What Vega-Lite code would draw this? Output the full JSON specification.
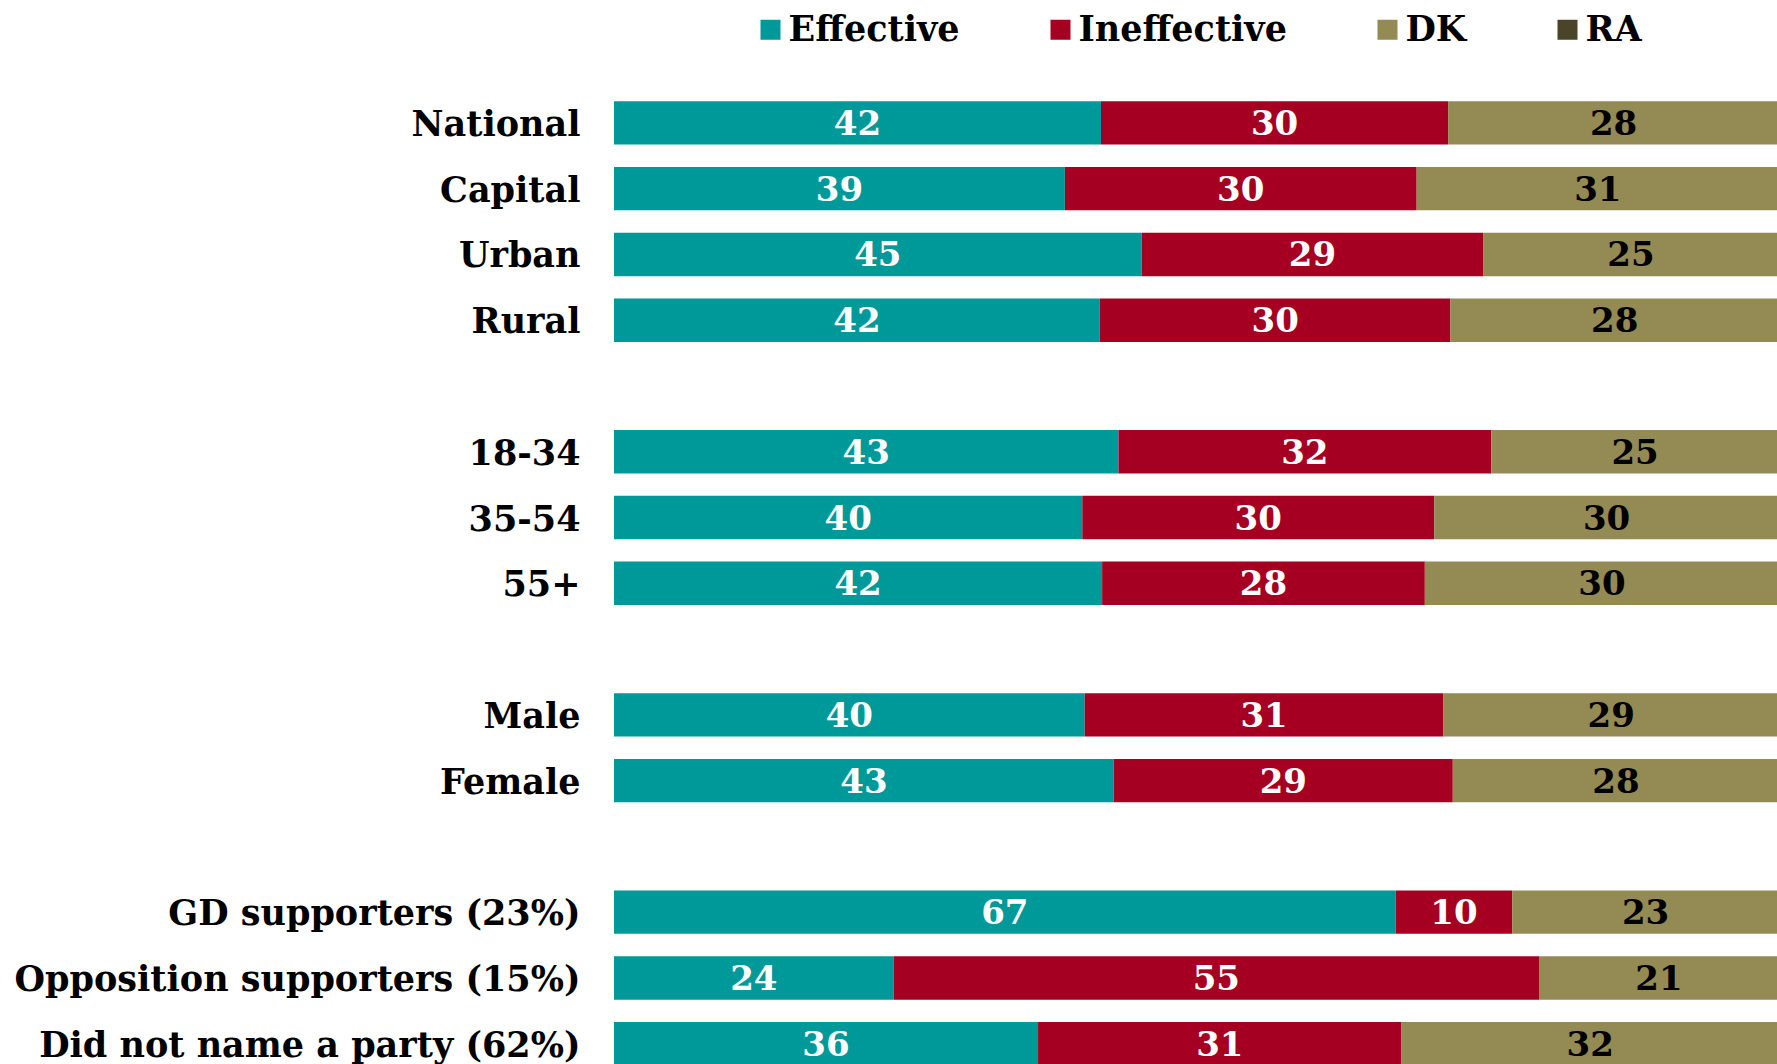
{
  "$schema": "https://vega.github.io/schema/vega-lite/v6.json",
  "width": 1163,
  "height": 974,
  "autosize": {"type": "none"},
  "padding": {"left": 614, "top": 90, "right": 0, "bottom": 0},
  "background": "white",
  "config": {"view": {"stroke": null}, "font": "DejaVu Serif"},
  "datasets": {
    "responses": [
      {"response": "Effective", "rank": 1},
      {"response": "Ineffective", "rank": 2},
      {"response": "DK", "rank": 3},
      {"response": "RA", "rank": 4}
    ]
  },
  "data": {
    "values": [
      {"group": "National", "response": "Effective", "pct": 41.8},
      {"group": "National", "response": "Ineffective", "pct": 29.8},
      {"group": "National", "response": "DK", "pct": 28.4},
      {"group": "Capital", "response": "Effective", "pct": 38.7},
      {"group": "Capital", "response": "Ineffective", "pct": 30.2},
      {"group": "Capital", "response": "DK", "pct": 31.1},
      {"group": "Urban", "response": "Effective", "pct": 45.3},
      {"group": "Urban", "response": "Ineffective", "pct": 29.3},
      {"group": "Urban", "response": "DK", "pct": 25.4},
      {"group": "Rural", "response": "Effective", "pct": 41.7},
      {"group": "Rural", "response": "Ineffective", "pct": 30.1},
      {"group": "Rural", "response": "DK", "pct": 28.2},
      {"group": "18-34", "response": "Effective", "pct": 43.3},
      {"group": "18-34", "response": "Ineffective", "pct": 32.0},
      {"group": "18-34", "response": "DK", "pct": 24.7},
      {"group": "35-54", "response": "Effective", "pct": 40.2},
      {"group": "35-54", "response": "Ineffective", "pct": 30.2},
      {"group": "35-54", "response": "DK", "pct": 29.6},
      {"group": "55+", "response": "Effective", "pct": 41.9},
      {"group": "55+", "response": "Ineffective", "pct": 27.7},
      {"group": "55+", "response": "DK", "pct": 30.4},
      {"group": "Male", "response": "Effective", "pct": 40.4},
      {"group": "Male", "response": "Ineffective", "pct": 30.8},
      {"group": "Male", "response": "DK", "pct": 28.8},
      {"group": "Female", "response": "Effective", "pct": 42.9},
      {"group": "Female", "response": "Ineffective", "pct": 29.1},
      {"group": "Female", "response": "DK", "pct": 28.0},
      {"group": "GD supporters (23%)", "response": "Effective", "pct": 67.1},
      {"group": "GD supporters (23%)", "response": "Ineffective", "pct": 10.0},
      {"group": "GD supporters (23%)", "response": "DK", "pct": 22.9},
      {"group": "Opposition supporters (15%)", "response": "Effective", "pct": 24.0},
      {"group": "Opposition supporters (15%)", "response": "Ineffective", "pct": 55.4},
      {"group": "Opposition supporters (15%)", "response": "DK", "pct": 20.6},
      {"group": "Did not name a party (62%)", "response": "Effective", "pct": 36.4},
      {"group": "Did not name a party (62%)", "response": "Ineffective", "pct": 31.2},
      {"group": "Did not name a party (62%)", "response": "DK", "pct": 32.4}
    ]
  },
  "transform": [
    {"lookup": "response", "from": {"data": {"name": "responses"}, "key": "response", "fields": ["rank"]}}
  ],
  "encoding": {
    "y": {
      "field": "group",
      "type": "nominal",
      "title": null,
      "scale": {
        "domain": ["National", "Capital", "Urban", "Rural", " ", "18-34", "35-54", "55+", "  ", "Male", "Female", "   ", "GD supporters (23%)", "Opposition supporters (15%)", "Did not name a party (62%)"],
        "range": [0, 986.6],
        "paddingInner": 0.34,
        "paddingOuter": 0.17
      },
      "axis": {
        "ticks": false,
        "domain": false,
        "grid": false,
        "labelPadding": 34,
        "labelOffset": 2,
        "labelFont": "DejaVu Serif",
        "labelFontWeight": "bold",
        "labelFontSize": 35,
        "labelColor": "black",
        "labelLimit": 800
      }
    },
    "x": {
      "field": "pct",
      "type": "quantitative",
      "stack": "zero",
      "scale": {"domain": [0, 99.83], "nice": false},
      "axis": null
    },
    "order": {"field": "rank", "type": "quantitative", "sort": "ascending"}
  },
  "layer": [
    {
      "mark": {"type": "bar", "clip": true},
      "encoding": {
        "color": {
          "field": "response",
          "type": "nominal",
          "sort": ["Effective", "Ineffective", "DK", "RA"],
          "scale": {
            "domain": ["Effective", "Ineffective", "DK", "RA"],
            "range": ["#009999", "#A50021", "#948A54", "#4A4428"]
          },
          "legend": {
            "orient": "none",
            "legendX": 139,
            "legendY": -78,
            "direction": "horizontal",
            "columns": 4,
            "title": null,
            "padding": 0,
            "labelFont": "DejaVu Serif",
            "labelFontWeight": "bold",
            "labelFontSize": 35,
            "labelColor": "black",
            "labelLimit": 600,
            "labelOffset": 0.5,
            "symbolType": "square",
            "symbolSize": 400,
            "symbolStrokeWidth": 0,
            "symbolOpacity": 1,
            "columnPadding": 83
          }
        }
      }
    },
    {
      "mark": {"type": "text", "font": "DejaVu Serif", "fontWeight": "bold", "fontSize": 34, "baseline": "middle", "align": "center", "dy": 2, "clip": true},
      "encoding": {
        "x": {"field": "pct", "type": "quantitative", "stack": "zero", "bandPosition": 0.5},
        "text": {"field": "pct", "type": "quantitative", "format": ".0f"},
        "fill": {
          "field": "response",
          "type": "nominal",
          "sort": ["Effective", "Ineffective", "DK", "RA"],
          "scale": {
            "domain": ["Effective", "Ineffective", "DK", "RA"],
            "range": ["white", "white", "black", "black"]
          },
          "legend": null
        }
      }
    }
  ]
}
